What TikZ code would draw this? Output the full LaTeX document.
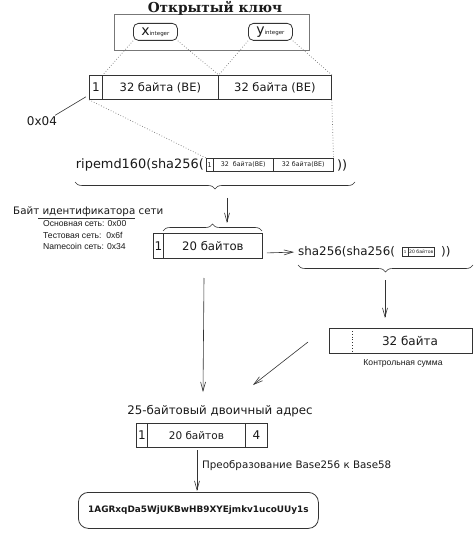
\documentclass[tikz,border=0pt]{standalone}
\usepackage{fontspec}
\setmainfont{DejaVu Sans}
\newfontfamily\titlefont{DejaVu Serif}
\newfontfamily\narrowfont{Liberation Sans}
\usetikzlibrary{decorations.pathreplacing,arrows.meta,calc}
\newcommand\myfs[1]{\fontsize{#1}{#1}\selectfont}
\definecolor{ln}{HTML}{333333}
\definecolor{tx}{HTML}{1A1A1A}
\definecolor{dl}{HTML}{777777}
\begin{document}
\begin{tikzpicture}[x=1pt,y=-1pt,
  box/.style={draw=ln, line width=0.8pt, inner sep=0pt, anchor=north west, text=tx},
  rbox/.style={box, rounded corners=5pt},
  lbl/.style={inner sep=0pt, text=tx},
  dots/.style={draw=dl, dotted, line width=0.7pt},
  arr/.style={draw=ln, line width=0.6pt, -{Straight Barb[length=9pt,width=5pt]}},
  brc/.style={draw=ln, line width=0.6pt, decorate, decoration={brace, amplitude=7pt}}
]
\useasboundingbox (0,0) rectangle (474,534);
\fill[white] (0,0) rectangle (474,534);

% public key
\node[box, draw=dl, minimum width=195pt, minimum height=36pt] (pk) at (114,14) {};
\node[lbl, anchor=base, font=\titlefont\bfseries\myfs{13.7}] (title) at (215,13) {Открытый ключ};
\node[rbox, minimum width=44pt, minimum height=17pt] (xi) at (133,23) {\myfs{14}x\myfs{5.5}integer};
\node[rbox, minimum width=44pt, minimum height=17pt] (yi) at (248,23) {\myfs{14}y\myfs{5.5}integer};

% 65 byte row
\node[box, minimum width=13pt, minimum height=24pt, font=\myfs{12}] (c1) at (89,75) {1};
\node[box, minimum width=116pt, minimum height=24pt, font=\myfs{11.5}] (c2) at (102,75) {32 байта (BE)};
\node[box, minimum width=113pt, minimum height=24pt, font=\myfs{11.5}] (c3) at (218,75) {32 байта (BE)};
\draw[dots] (xi.south west) -- (c1.north east);
\draw[dots] (xi.south east) -- (c2.north east);
\draw[dots] (yi.south west) -- (c2.north east);
\draw[dots] (yi.south east) -- (c3.north east);

\node[lbl, font=\myfs{12}] (l04) at (42,121) {0x04};
\draw[ln, line width=0.6pt] ($(l04.north east)+(-2,-1)$) -- ($(c1.south west)+(-3,-3)$);

% ripemd line
\node[lbl, anchor=east, font=\myfs{12.9}] (rip) at (204,165) {ripemd160(sha256(};
\node[box, line width=0.5pt, minimum width=7pt, minimum height=13pt, font=\myfs{6.5}] (s1) at (206,158) {1};
\node[box, line width=0.5pt, minimum width=60pt, minimum height=13pt, font=\myfs{6.3}] (s2) at (213,158) {32\ \ байта(BE)};
\node[box, line width=0.5pt, minimum width=60pt, minimum height=13pt, font=\myfs{6.3}] (s3) at (273,158) {32 байта(BE)};
\node[lbl, anchor=west, font=\myfs{12.9}] (rp2) at (337,165) {))};
\draw[dots] (c1.south west) -- (s1.north west);
\draw[dots] (c3.south east) -- (s3.north east);
\draw[brc] (355,182) -- (75,182);
\coordinate (a1s) at (227,198);
\coordinate (a1e) at (227,223);
\draw[arr] (a1s) -- (a1e);

% network byte
\node[lbl, anchor=west, font=\myfs{10.3}] (nb) at (13,212) {Байт идентификатора сети};
\draw[ln, line width=0.6pt] (38,218) -- (135,218);
\node[lbl, anchor=west, font=\narrowfont\myfs{8.6}] (n1) at (43,224) {Основная сеть: 0x00};
\node[lbl, anchor=west, font=\narrowfont\myfs{8.6}] (n2) at (43,235) {Тестовая сеть:\ \ 0x6f};
\node[lbl, anchor=west, font=\narrowfont\myfs{8.6}] (n3) at (43,246) {Namecoin сеть: 0x34};

% 21 byte box
\node[box, minimum width=10pt, minimum height=25pt, font=\myfs{12}] (b1) at (153,233) {1};
\node[box, minimum width=99pt, minimum height=25pt, font=\myfs{11.7}] (b2) at (163,233) {20 байтов};
\draw[brc] (163,231) -- (262,231);

% sha line
\node[lbl, anchor=west, font=\myfs{11.9}] (sha) at (298,252) {sha256(sha256(};
\node[box, line width=0.4pt, minimum width=6pt, minimum height=9pt, font=\myfs{4}] (t1) at (402,247) {1};
\node[box, line width=0.4pt, minimum width=26pt, minimum height=9pt, font=\myfs{4.6}] (t2) at (408,247) {20 байтов};
\node[lbl, anchor=west, font=\myfs{11.9}] (sh2) at (441,252) {))};
\draw[arr, shorten >=4pt] ($(b2.east)+(4,7)$) -- (sha.west);
\draw[brc] (473,265) -- (298,265);
\coordinate (a2s) at (385,280);
\coordinate (a2e) at (385,318);
\draw[arr] (a2s) -- (a2e);

% checksum
\node[box, minimum width=143pt, minimum height=25pt] (k) at (329,328) {};
\draw[ln, dotted, line width=0.8pt] ($(k.north west)+(23,3)$) -- ($(k.south west)+(23,-3)$);
\node[lbl, font=\myfs{12}] (k32) at (410,341) {32 байта};
\node[lbl, font=\narrowfont\myfs{8.6}] (ks) at (403,363) {Контрольная сумма};

% arrows to address
\coordinate (a3s) at (308,342);
\coordinate (a3e) at (253,385);
\draw[arr] (a3s) -- (a3e);
\coordinate (a4s) at (204,278);
\coordinate (a4e) at (203,392);
\draw[arr] (a4s) -- (a4e);

% 25 byte address
\node[lbl, font=\myfs{11.8}] (ad) at (220,411) {25-байтовый двоичный адрес};
\node[box, minimum width=11pt, minimum height=24pt, font=\myfs{12}] (d1) at (136,423) {1};
\node[box, minimum width=98pt, minimum height=24pt, font=\myfs{10.5}] (d2) at (147,423) {20 байтов};
\node[box, minimum width=22pt, minimum height=24pt, font=\myfs{12}] (d3) at (245,423) {4};

\coordinate (a5s) at (197,450);
\draw[arr] (a5s) -- (197,491) coordinate (a5e);
\node[lbl, anchor=west, font=\myfs{10.3}] (conv) at (202,466) {Преобразование Base256 к Base58};

\node[box, rounded corners=10pt, minimum width=240pt, minimum height=36pt, font=\bfseries\myfs{8.9}] (fin) at (78,492) {1AGRxqDa5WjUKBwHB9XYEjmkv1ucoUUy1s};
\end{tikzpicture}
\end{document}
